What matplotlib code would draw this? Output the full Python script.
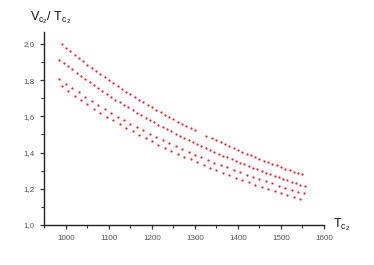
import matplotlib
matplotlib.use("Agg")
import matplotlib.pyplot as plt
from matplotlib.ticker import MultipleLocator, FuncFormatter

plt.rcParams['font.family'] = ['Liberation Sans', 'DejaVu Sans']
plt.rcParams['mathtext.fontset'] = 'custom'
plt.rcParams['mathtext.rm'] = 'Liberation Sans'

# ---- data ----
top_x = [990, 1000, 1010, 1020, 1030, 1040, 1050, 1060, 1070, 1080, 1090, 1100,
         1110, 1120, 1130, 1140, 1150, 1160, 1170, 1180, 1190, 1200, 1210, 1220,
         1230, 1240, 1250, 1260, 1270, 1280, 1290, 1300, 1325, 1340, 1350, 1360,
         1370, 1380, 1390, 1400, 1410, 1420, 1430, 1440, 1450, 1460, 1470, 1480,
         1490, 1500, 1510, 1520, 1530, 1540, 1550]
top_y = [2.000, 1.980, 1.960, 1.941, 1.922, 1.904, 1.886, 1.868, 1.850, 1.833, 1.817, 1.800,
         1.784, 1.768, 1.752, 1.737, 1.722, 1.707, 1.692, 1.678, 1.664, 1.650, 1.636, 1.623,
         1.610, 1.597, 1.584, 1.571, 1.559, 1.547, 1.535, 1.523, 1.494, 1.478, 1.467, 1.456,
         1.445, 1.435, 1.424, 1.414, 1.404, 1.394, 1.385, 1.375, 1.366, 1.356, 1.347, 1.338,
         1.329, 1.320, 1.311, 1.303, 1.294, 1.286, 1.279]

mid_x = [985, 995, 1005, 1015, 1025, 1035, 1045, 1055, 1065, 1075, 1085, 1095,
         1105, 1115, 1125, 1135, 1145, 1155, 1165, 1175, 1185, 1195, 1205, 1215,
         1225, 1235, 1245, 1255, 1265, 1275, 1285, 1295, 1305, 1315, 1325, 1335,
         1345, 1355, 1365, 1375, 1385, 1395, 1405, 1415, 1425, 1435, 1445, 1455,
         1465, 1475, 1485, 1495, 1505, 1515, 1525, 1535, 1545, 1555]
mid_y = [1.912, 1.897, 1.878, 1.860, 1.842, 1.824, 1.807, 1.790, 1.773, 1.756, 1.740, 1.724,
         1.709, 1.693, 1.678, 1.663, 1.649, 1.635, 1.621, 1.607, 1.593, 1.580, 1.567, 1.554,
         1.541, 1.529, 1.517, 1.504, 1.493, 1.481, 1.469, 1.458, 1.447, 1.436, 1.425, 1.414,
         1.404, 1.393, 1.383, 1.373, 1.363, 1.354, 1.344, 1.335, 1.325, 1.316, 1.307, 1.298,
         1.289, 1.280, 1.272, 1.263, 1.255, 1.246, 1.238, 1.230, 1.222, 1.218]

lowA_x = [985, 1000, 1015, 1030, 1045, 1060, 1075, 1090, 1105, 1120, 1135, 1150,
          1165, 1180, 1195, 1210, 1225, 1240, 1255, 1270, 1285, 1300, 1315, 1330,
          1345, 1360, 1375, 1390, 1405, 1420, 1435, 1450, 1465, 1480, 1495, 1510,
          1525, 1540, 1553]
lowA_y = [1.807, 1.781, 1.756, 1.732, 1.708, 1.685, 1.663, 1.641, 1.620, 1.599, 1.579, 1.559,
          1.540, 1.522, 1.504, 1.486, 1.469, 1.452, 1.436, 1.420, 1.404, 1.389, 1.374, 1.359,
          1.345, 1.331, 1.318, 1.304, 1.291, 1.278, 1.266, 1.254, 1.242, 1.230, 1.218, 1.207,
          1.196, 1.185, 1.176]

lowB_x = [990, 1005, 1020, 1035, 1050, 1065, 1080, 1095, 1110, 1125, 1140, 1155,
          1170, 1185, 1200, 1215, 1230, 1245, 1260, 1275, 1290, 1305, 1320, 1335,
          1350, 1365, 1380, 1395, 1410, 1425, 1440, 1455, 1470, 1485, 1500, 1515,
          1530, 1545]
lowB_y = [1.766, 1.740, 1.715, 1.690, 1.666, 1.643, 1.621, 1.599, 1.578, 1.557, 1.537, 1.517,
          1.498, 1.480, 1.462, 1.444, 1.427, 1.410, 1.393, 1.377, 1.362, 1.346, 1.331, 1.317,
          1.302, 1.288, 1.275, 1.261, 1.248, 1.235, 1.223, 1.210, 1.198, 1.187, 1.175, 1.164,
          1.153, 1.142]

x_ticks = [1000, 1100, 1200, 1300, 1400, 1500, 1600]
y_ticks = [1.0, 1.2, 1.4, 1.6, 1.8, 2.0]

W, H = 374, 265
fig = plt.figure(figsize=(W / 100, H / 100), dpi=100)
ax = fig.add_axes([44 / W, (H - 225) / H, (324 - 44) / W, (225 - 32) / H])

red = '#e4222a'
for xs, ys in [(top_x, top_y), (mid_x, mid_y), (lowA_x, lowA_y), (lowB_x, lowB_y)]:
    ax.plot(xs, ys, linestyle='none', marker='o', markersize=1.6,
            markeredgewidth=0, color=red)

ax.set_xlim(949, 1600)
ax.set_ylim(1.0, 2.066)
ax.set_xticks(x_ticks)
ax.set_yticks(y_ticks)
ax.xaxis.set_minor_locator(MultipleLocator(50))
ax.yaxis.set_minor_locator(MultipleLocator(0.1))
ax.yaxis.set_major_formatter(FuncFormatter(lambda v, p: f"{v:.1f}".replace('.', ',')))

for s in ['top', 'right']:
    ax.spines[s].set_visible(False)
for s in ['left', 'bottom']:
    ax.spines[s].set_linewidth(1.0)
    ax.spines[s].set_color('#222222')

ax.tick_params(which='major', direction='out', length=3, width=0.9,
               labelsize=5.8, labelcolor='#555555', color='#333333', pad=4)
ax.tick_params(which='minor', direction='out', length=2, width=0.8, color='#333333')

fig.text(30 / W, 1 - 20 / H,
         r'$\mathrm{V}_{\mathrm{c}_2}$/ $\mathrm{T}_{\mathrm{c}_2}$',
         fontsize=9, ha='left', va='baseline', color='#111111')
fig.text(333 / W, 1 - 227 / H, r'$\mathrm{T}_{\mathrm{c}_2}$',
         fontsize=9, ha='left', va='baseline', color='#111111')

fig.savefig('out.png', dpi=100)
